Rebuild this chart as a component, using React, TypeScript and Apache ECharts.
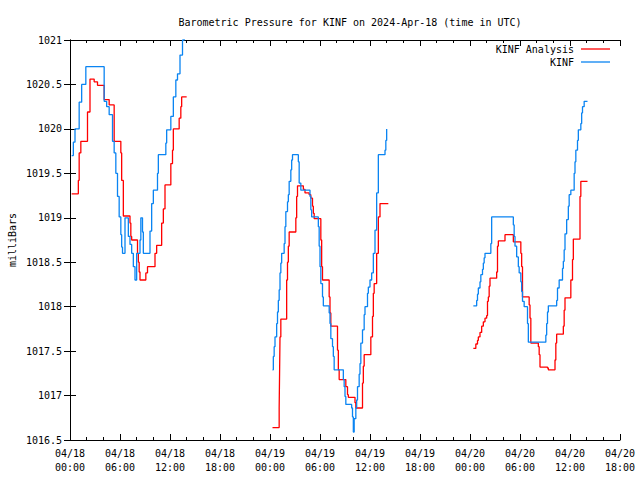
import React, { useEffect, useRef } from "react";
import * as echarts from "echarts";

// Hours since 2024-04-18 00:00 UTC, pressure in millibars (value holds until next point)
const analysisDay1Hours = [0.2, 1.0, 1.1, 1.3, 2.1, 2.4, 2.9, 3.3, 4.1, 4.7, 5.3, 6.1, 6.2, 6.4, 7.2, 7.3, 7.4, 8.1, 8.2, 8.3, 8.4, 9.1, 9.3, 10.2, 10.4, 11.0, 11.2, 11.4, 12.1, 12.3, 12.4, 13.1, 13.3, 13.4, 14.0];
const analysisDay1Mb = [1019.27, 1019.42, 1019.73, 1019.86, 1020.19, 1020.56, 1020.53, 1020.49, 1020.33, 1020.27, 1019.86, 1019.73, 1019.42, 1019.02, 1018.94, 1018.79, 1018.75, 1018.6, 1018.5, 1018.39, 1018.3, 1018.38, 1018.45, 1018.6, 1018.69, 1018.94, 1019.1, 1019.37, 1019.61, 1019.76, 1020.0, 1020.12, 1020.25, 1020.36, 1020.36];

const analysisDay2Hours = [24.3, 25.1, 25.15, 25.2, 25.3, 26.0, 26.1, 26.2, 26.3, 27.1, 27.2, 27.3, 28.0, 28.2, 28.7, 28.9, 29.1, 29.2, 29.3, 30.1, 30.2, 30.3, 31.1, 31.2, 31.3, 32.1, 32.2, 32.3, 33.1, 33.3, 33.4, 34.2, 34.3, 35.1, 35.2, 35.3, 36.1, 36.3, 36.4, 36.5, 36.8, 37.0, 37.2, 38.2];
const analysisDay2Mb = [1016.64, 1016.86, 1017.25, 1017.66, 1017.86, 1018.3, 1018.5, 1018.68, 1018.84, 1019.0, 1019.24, 1019.36, 1019.32, 1019.28, 1019.26, 1019.22, 1019.13, 1019.05, 1018.99, 1018.75, 1018.45, 1018.3, 1018.11, 1017.93, 1017.78, 1017.51, 1017.29, 1017.18, 1017.1, 1017.01, 1016.98, 1016.92, 1016.86, 1017.14, 1017.33, 1017.46, 1017.66, 1017.89, 1018.15, 1018.26, 1018.6, 1019.01, 1019.16, 1019.16];

const analysisDay3Hours = [48.4, 48.7, 48.9, 49.0, 49.2, 49.4, 49.6, 49.8, 50.0, 50.1, 50.2, 50.3, 50.4, 51.2, 51.3, 51.4, 52.2, 53.2, 54.1, 54.2, 54.3, 55.1, 55.2, 55.3, 56.2, 56.3, 56.4, 57.3, 57.4, 58.2, 58.3, 58.4, 59.2, 59.3, 59.4, 60.1, 60.3, 60.4, 61.2, 61.3, 62.1];
const analysisDay3Mb = [1017.53, 1017.58, 1017.62, 1017.66, 1017.71, 1017.78, 1017.83, 1017.87, 1017.9, 1018.06, 1018.11, 1018.23, 1018.32, 1018.39, 1018.68, 1018.74, 1018.81, 1018.73, 1018.6, 1018.45, 1018.11, 1018.02, 1017.87, 1017.59, 1017.55, 1017.46, 1017.32, 1017.31, 1017.29, 1017.4, 1017.59, 1017.69, 1017.78, 1017.96, 1018.1, 1018.3, 1018.53, 1018.76, 1019.24, 1019.41, 1019.41];

const obsDay1Hours = [0.2, 0.4, 0.6, 1.1, 1.4, 1.9, 4.1, 4.4, 4.7, 5.1, 5.3, 5.5, 5.7, 5.9, 6.1, 6.2, 6.3, 6.6, 7.0, 7.2, 7.4, 7.6, 7.8, 8.0, 8.4, 8.5, 8.7, 8.8, 9.6, 9.8, 10.0, 10.5, 10.6, 11.5, 11.6, 12.1, 12.4, 12.7, 12.9, 13.2, 13.5, 13.7];
const obsDay1Mb = [1019.7, 1019.85, 1020.0, 1020.3, 1020.5, 1020.7, 1020.31, 1020.25, 1020.16, 1019.86, 1019.73, 1019.5, 1019.24, 1019.01, 1018.81, 1018.67, 1018.6, 1019.0, 1018.79, 1018.7, 1018.6, 1018.45, 1018.3, 1018.6, 1018.75, 1019.0, 1018.84, 1018.6, 1018.85, 1019.16, 1019.31, 1019.5, 1019.71, 1019.84, 1019.99, 1020.14, 1020.36, 1020.55, 1020.62, 1020.83, 1021.0, 1021.2];

const obsDay2Hours = [24.3, 24.4, 24.5, 24.6, 24.8, 24.9, 25.0, 25.1, 25.2, 25.3, 25.4, 25.7, 25.8, 25.9, 26.1, 26.2, 26.3, 26.5, 26.6, 26.7, 27.4, 27.5, 27.7, 28.8, 28.9, 29.0, 29.8, 29.9, 30.0, 30.1, 30.3, 30.4, 31.1, 31.2, 31.3, 31.5, 31.6, 31.7, 32.8, 32.9, 33.0, 33.1, 33.8, 33.9, 34.0, 34.1, 34.3, 34.4, 34.5, 34.7, 34.8, 34.9, 35.1, 35.3, 35.4, 35.7, 35.8, 36.0, 36.2, 36.4, 36.6, 36.8, 37.0, 37.8, 37.9, 38.0];
const obsDay2Mb = [1017.29, 1017.44, 1017.55, 1017.66, 1017.81, 1017.94, 1018.07, 1018.19, 1018.38, 1018.49, 1018.6, 1018.71, 1018.9, 1019.07, 1019.18, 1019.26, 1019.41, 1019.54, 1019.65, 1019.71, 1019.63, 1019.39, 1019.31, 1019.24, 1019.09, 1019.01, 1018.9, 1018.68, 1018.45, 1018.26, 1018.11, 1018.01, 1017.93, 1017.81, 1017.64, 1017.55, 1017.44, 1017.29, 1017.18, 1017.1, 1016.99, 1016.9, 1016.86, 1016.76, 1016.59, 1016.74, 1016.86, 1016.95, 1017.1, 1017.24, 1017.36, 1017.59, 1017.74, 1017.91, 1018.0, 1018.15, 1018.22, 1018.3, 1018.38, 1018.6, 1018.86, 1019.28, 1019.71, 1019.76, 1019.87, 1020.0];

const obsDay3Hours = [48.4, 48.8, 48.9, 49.0, 49.2, 49.3, 49.5, 49.6, 49.7, 49.8, 50.5, 50.6, 53.2, 53.3, 53.4, 53.6, 53.8, 53.9, 54.1, 54.2, 54.3, 54.5, 54.9, 55.0, 57.1, 57.2, 57.3, 57.4, 58.4, 58.5, 58.7, 59.1, 59.2, 59.3, 59.4, 59.6, 59.8, 59.9, 60.1, 60.5, 60.6, 60.7, 60.9, 61.0, 61.3, 61.4, 61.5, 61.7, 62.1];
const obsDay3Mb = [1018.01, 1018.07, 1018.14, 1018.21, 1018.28, 1018.36, 1018.42, 1018.49, 1018.55, 1018.6, 1018.71, 1019.01, 1018.92, 1018.79, 1018.68, 1018.56, 1018.45, 1018.38, 1018.28, 1018.17, 1018.06, 1018.0, 1017.81, 1017.6, 1017.68, 1017.81, 1017.94, 1018.01, 1018.07, 1018.21, 1018.3, 1018.43, 1018.51, 1018.64, 1018.82, 1018.98, 1019.13, 1019.26, 1019.31, 1019.5, 1019.63, 1019.76, 1019.87, 1019.99, 1020.06, 1020.18, 1020.25, 1020.31, 1020.31];

const seriesNames = ["KINF Analysis", "KINF"];
const titleText = "Barometric Pressure for KINF on 2024-Apr-18 (time in UTC)";
const yAxisTitle = "milliBars";
const dateLabels = ["04/18", "04/19", "04/20"];

const FONT = "'DejaVu Sans Mono', monospace";
const RED = "#ff0000";
const BLUE = "#0a84f2";

function pairs(hs: number[], vs: number[]) {
  return hs.map((h, j) => [h, vs[j]]);
}

export default function App() {
  const ref = useRef<HTMLDivElement>(null);
  useEffect(() => {
    if (!ref.current) return;
    const chart = echarts.init(ref.current, undefined, { renderer: "svg" });
    const xLabel = (v: number) => {
      const day = Math.floor(v / 24);
      const hr = v % 24;
      const d = day < dateLabels.length ? dateLabels[day] : dateLabels[dateLabels.length - 1];
      return `${d}\n${String(hr).padStart(2, "0")}:00`;
    };
    const axisLine = { show: true, lineStyle: { color: "#000", width: 1 } };
    const tick = { show: true, inside: true, length: 6, lineStyle: { color: "#000", width: 1 } };
    const minor = { show: true, splitNumber: 3, length: 3, lineStyle: { color: "#000", width: 1 } };
    const mk = (name: string, color: string, data: number[][], z: number) => ({
      name,
      type: "line",
      step: "end",
      data,
      showSymbol: false,
      symbol: "none",
      clip: true,
      lineStyle: { color, width: 1.3 },
      itemStyle: { color },
      z,
    });
    chart.setOption({
      animation: false,
      backgroundColor: "#fff",
      title: {
        text: titleText,
        left: 345,
        top: 12,
        textAlign: "center",
        textStyle: { fontFamily: FONT, fontSize: 10, fontWeight: "normal", color: "#000" },
      },
      grid: { left: 70, right: 20, top: 40, bottom: 40 },
      xAxis: [
        {
          type: "value",
          position: "bottom",
          min: 0,
          max: 66,
          interval: 6,
          axisLine,
          axisTick: tick,
          minorTick: minor,
          splitLine: { show: false },
          axisLabel: {
            formatter: xLabel,
            fontFamily: FONT,
            fontSize: 10,
            color: "#000",
            lineHeight: 14,
            margin: 6,
          },
        },
        {
          type: "value",
          position: "top",
          min: 0,
          max: 66,
          interval: 6,
          axisLine,
          axisTick: tick,
          minorTick: minor,
          splitLine: { show: false },
          axisLabel: { show: false },
        },
      ],
      yAxis: [
        {
          type: "value",
          position: "left",
          min: 1016.5,
          max: 1021,
          interval: 0.5,
          axisLine,
          axisTick: tick,
          splitLine: { show: false },
          axisLabel: {
            formatter: (v: number) => String(v),
            fontFamily: FONT,
            fontSize: 10,
            color: "#000",
            margin: 8,
          },
        },
        {
          type: "value",
          position: "right",
          min: 1016.5,
          max: 1021,
          interval: 0.5,
          axisLine,
          axisTick: tick,
          splitLine: { show: false },
          axisLabel: { show: false },
        },
      ],
      series: [
        mk(seriesNames[0], RED, pairs(analysisDay1Hours, analysisDay1Mb), 3),
        mk(seriesNames[0], RED, pairs(analysisDay2Hours, analysisDay2Mb), 3),
        mk(seriesNames[0], RED, pairs(analysisDay3Hours, analysisDay3Mb), 3),
        mk(seriesNames[1], BLUE, pairs(obsDay1Hours, obsDay1Mb), 4),
        mk(seriesNames[1], BLUE, pairs(obsDay2Hours, obsDay2Mb), 4),
        mk(seriesNames[1], BLUE, pairs(obsDay3Hours, obsDay3Mb), 4),
      ],
      graphic: [
        {
          type: "text",
          x: 12,
          y: 240,
          rotation: Math.PI / 2,
          style: {
            text: yAxisTitle,
            fontFamily: FONT,
            fontSize: 10,
            fill: "#000",
            textAlign: "center",
            textVerticalAlign: "middle",
          },
        },
        {
          type: "text",
          x: 574,
          y: 49,
          style: {
            text: seriesNames[0],
            fontFamily: FONT,
            fontSize: 10,
            fill: "#000",
            textAlign: "right",
            textVerticalAlign: "middle",
          },
        },
        {
          type: "line",
          shape: { x1: 581, y1: 49, x2: 610, y2: 49 },
          style: { stroke: RED, lineWidth: 1.3 },
        },
        {
          type: "text",
          x: 574,
          y: 62,
          style: {
            text: seriesNames[1],
            fontFamily: FONT,
            fontSize: 10,
            fill: "#000",
            textAlign: "right",
            textVerticalAlign: "middle",
          },
        },
        {
          type: "line",
          shape: { x1: 581, y1: 62, x2: 610, y2: 62 },
          style: { stroke: BLUE, lineWidth: 1.3 },
        },
      ],
    });
    return () => chart.dispose();
  }, []);
  return (
    <div
      ref={ref}
      style={{ position: "absolute", left: 0, top: 0, width: 640, height: 480, background: "#fff" }}
    />
  );
}
